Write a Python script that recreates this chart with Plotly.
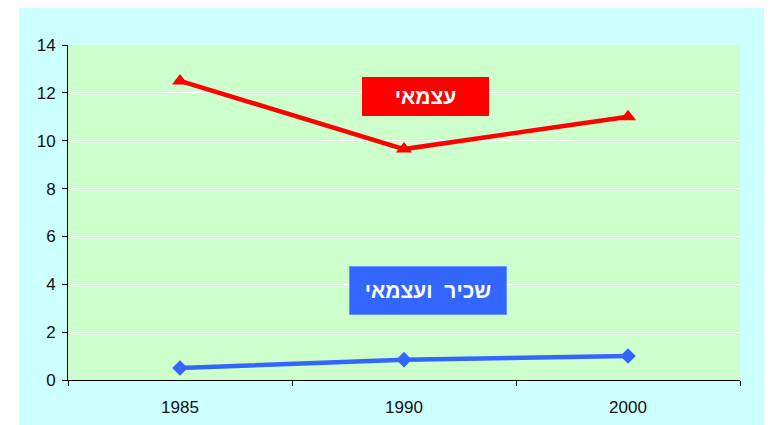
import plotly.graph_objects as go

years = ["1985", "1990", "2000"]
self_employed = [12.5, 9.65, 11.0]
salaried_and_self = [0.5, 0.85, 1.0]
y_ticks = [0, 2, 4, 6, 8, 10, 12, 14]
label_red = "עצמאי"
label_blue = "שכיר  ועצמאי"

# the page body adds an 8px offset; the figure fills the rest of the 772x425 window
OFF = 8
W, H = 772 - OFF, 425 - OFF
L, T, R, B = 68 - OFF, 45 - OFF, 32, 45
pw, ph = W - L - R, H - T - B

def px_x(p):
    return (p - L) / pw

def px_y(p):
    return (H - B - p) / ph

fig = go.Figure()
fig.add_trace(go.Scatter(
    x=years, y=self_employed, mode="lines+markers",
    line=dict(color="#FF0000", width=4.5),
    marker=dict(symbol="triangle-up", size=14, color="#FF0000"),
    showlegend=False, cliponaxis=False, hoverinfo="skip"))
fig.add_trace(go.Scatter(
    x=years, y=salaried_and_self, mode="lines+markers",
    line=dict(color="#3366FF", width=4.5),
    marker=dict(symbol="diamond", size=12, color="#3366FF"),
    showlegend=False, cliponaxis=False, hoverinfo="skip"))

# white strip left of the cyan chart area
fig.add_shape(type="rect", xref="paper", yref="paper", layer="below",
              x0=px_x(-5), x1=px_x(19 - OFF), y0=px_y(H + 5), y1=px_y(-5),
              fillcolor="white", line=dict(width=0))

hfont = "Arial, Liberation Sans, DejaVu Sans, sans-serif"
fig.add_annotation(x=1.098, y=11.83, xref="x", yref="y", text="<b>" + label_red + "</b>",
                   showarrow=False, bgcolor="#FF0000", width=127, height=39,
                   borderpad=0, borderwidth=0,
                   font=dict(family=hfont, size=21, color="white"))
fig.add_annotation(x=1.107, y=3.76, xref="x", yref="y", text="<b>" + label_blue.replace(" ", "&nbsp;") + "</b>",
                   showarrow=False, bgcolor="#3366FF", width=156, height=47,
                   borderpad=0, borderwidth=1, bordercolor="#6699FF",
                   font=dict(family=hfont, size=21, color="white"))

fig.update_layout(
    width=W, height=H, autosize=False,
    margin=dict(l=L, t=T, r=R, b=B, pad=0, autoexpand=False),
    paper_bgcolor="#CCFFFF", plot_bgcolor="#CCFFCC",
    font=dict(family="Arial, Liberation Sans, sans-serif", size=17, color="#111111"),
    xaxis=dict(type="category", range=[-0.5, 2.5], tickson="boundaries",
               ticks="outside", ticklen=5, tickcolor="black", tickwidth=1,
               showline=True, linecolor="black", linewidth=1, automargin=False,
               showgrid=False, zeroline=False, ticklabelstandoff=12),
    yaxis=dict(range=[0, 14], tickvals=y_ticks, ticks="outside", ticklen=5,
               tickcolor="black", showline=True, linecolor="black", linewidth=1,
               showgrid=True, gridcolor="white", gridwidth=1, zeroline=False,
               automargin=False, ticklabelstandoff=3),
)

fig.write_html("out.html", config={"displayModeBar": False})
